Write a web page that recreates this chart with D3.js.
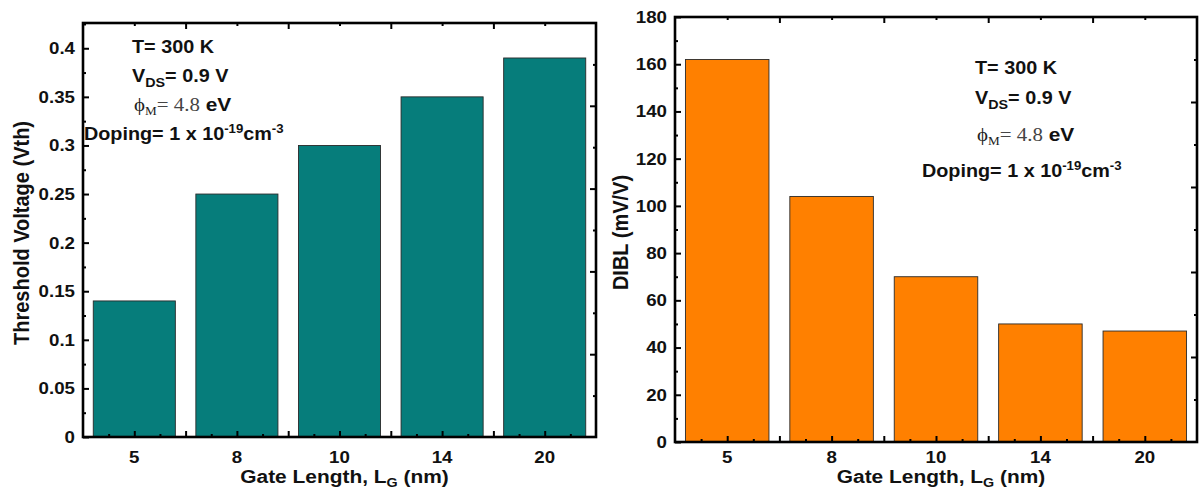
<!DOCTYPE html>
<html>
<head>
<meta charset="utf-8">
<script src="https://cdn.jsdelivr.net/npm/d3@7/dist/d3.min.js"></script>
<style>
  html, body { margin: 0; padding: 0; background: #fff; }
  svg { display: block; }
  text { font-family: Arial, "Liberation Sans", sans-serif; font-weight: bold; fill: #111; }
</style>
</head>
<body>
<svg id="chart" width="1201" height="489"></svg>
<script>
// Gate lengths (nm) shared by both panels
const gateLengths = ["5", "8", "10", "14", "20"];
// Threshold voltage (V) per gate length
const vthValues = [0.14, 0.25, 0.30, 0.35, 0.39];
// DIBL (mV/V) per gate length
const diblValues = [162, 104, 70, 50, 47];
// Y tick values and labels
const vthTicks = [0, 0.05, 0.1, 0.15, 0.2, 0.25, 0.3, 0.35, 0.4];
const vthTickLabels = ["0", "0.05", "0.1", "0.15", "0.2", "0.25", "0.3", "0.35", "0.4"];
const diblTicks = [0, 20, 40, 60, 80, 100, 120, 140, 160, 180];
const diblTickLabels = ["0", "20", "40", "60", "80", "100", "120", "140", "160", "180"];

const svg = d3.select("#chart");
const SX = 1.1;            // slight horizontal widening of the lettering
const TICK_BASE = 463;      // baseline of x tick labels
const TITLE_BASE = 483;     // baseline of x titles

function drawPanel(cfg) {
  const w = cfg.right - cfg.left, h = cfg.bottom - cfg.top;
  const g = svg.append("g").attr("transform", `translate(${cfg.left},${cfg.top})`);

  const x = d3.scaleBand().domain(gateLengths).range([0, w]).paddingInner(0.2).paddingOuter(0.1);
  const y = d3.scaleLinear().domain([0, cfg.yMax]).range([h, 0]);
  const slot = d3.scaleLinear().domain([0, gateLengths.length]).range([0, w]);
  const frac = d3.scaleLinear().domain([0, 5]).range([h, 0]);

  // bars
  g.selectAll("rect.bar").data(cfg.values).join("rect")
    .attr("class", "bar")
    .attr("x", (d, i) => x(gateLengths[i]))
    .attr("width", x.bandwidth())
    .attr("y", d => y(d))
    .attr("height", d => h - y(d))
    .attr("fill", cfg.color)
    .attr("stroke", "#2a2a2a")
    .attr("stroke-width", 0.9);

  const tickStyle = sel => {
    sel.select(".domain").remove();
    sel.selectAll("line").attr("stroke", "#000").attr("stroke-width", 2);
  };

  // left axis: major and minor ticks, inward
  g.append("g").call(d3.axisLeft(y).tickValues(cfg.minorTicks).tickSize(-3).tickFormat("")).call(tickStyle);
  const yAx = g.append("g").call(d3.axisLeft(y).tickValues(cfg.ticks).tickSize(-6).tickPadding(9)
      .tickFormat((d, i) => cfg.tickLabels[i])).call(tickStyle);
  yAx.selectAll("text").style("font-size", "17px").attr("fill", "#111")
    .attr("transform", `scale(${SX},1)`).attr("x", -8 / SX);

  // right axis: five equal divisions with halves
  const ax = g.append("g").attr("transform", `translate(${w},0)`);
  ax.call(d3.axisRight(frac).tickValues(d3.range(0.5, 5, 1)).tickSize(-3).tickFormat("")).call(tickStyle);
  ax.append("g").call(d3.axisRight(frac).tickValues(d3.range(1, 5, 1)).tickSize(-6).tickFormat("")).call(tickStyle);

  // top axis: boundaries major, centres minor
  const at = g.append("g");
  at.call(d3.axisTop(slot).tickValues(d3.range(0.5, 5, 1)).tickSize(-3).tickFormat("")).call(tickStyle);
  at.append("g").call(d3.axisTop(slot).tickValues(d3.range(1, 5, 1)).tickSize(-6).tickFormat("")).call(tickStyle);

  // bottom axis: centres and boundaries major, quarters minor
  const ab = g.append("g").attr("transform", `translate(0,${h})`);
  ab.call(d3.axisBottom(slot).tickValues(d3.range(0.25, 5, 0.5)).tickSize(-3).tickFormat("")).call(tickStyle);
  ab.append("g").call(d3.axisBottom(slot).tickValues(d3.range(0.5, 5, 0.5)).tickSize(-6).tickFormat("")).call(tickStyle);
  const lab = g.append("g").attr("transform", `translate(0,${h})`)
    .call(d3.axisBottom(x).tickSize(0).tickPadding(0));
  lab.select(".domain").remove();
  lab.selectAll("text").style("font-size", "17px").attr("fill", "#111")
    .attr("dy", 0).attr("y", TICK_BASE - cfg.bottom)
    .attr("transform", `scale(${SX},1)`)
    .attr("x", 0);

  // frame
  g.append("rect").attr("width", w).attr("height", h)
    .attr("fill", "none").attr("stroke", "#000").attr("stroke-width", 2.6);

  // x title
  const xt = svg.append("text")
    .attr("transform", `translate(${(cfg.left + cfg.right) / 2 + 5},${TITLE_BASE}) scale(${SX},1)`)
    .attr("text-anchor", "middle").style("font-size", "19px");
  xt.append("tspan").text("Gate Length, L");
  xt.append("tspan").text("G").style("font-size", "13px").attr("dy", 4);
  xt.append("tspan").text(" (nm)").attr("dy", -4);

  // y title
  svg.append("text")
    .attr("transform", `translate(${cfg.yTitleX},${(cfg.top + cfg.bottom) / 2 + 3}) scale(${SX},1) rotate(-90)`)
    .attr("text-anchor", "middle").style("font-size", "20px").text(cfg.yTitle);

  // condition notes
  const n = cfg.notes;
  svg.append("text").attr("transform", `translate(${n.x},${n.y[0]}) scale(${SX},1)`)
    .style("font-size", "18px").text("T= 300 K");

  const t2 = svg.append("text").attr("transform", `translate(${n.x},${n.y[1]}) scale(${SX},1)`).style("font-size", "18px");
  t2.append("tspan").text("V");
  t2.append("tspan").text("DS").style("font-size", "13px").attr("dy", 5);
  t2.append("tspan").text("= 0.9 V").attr("dy", -5);

  const t3 = svg.append("text").attr("transform", `translate(${n.x + 2},${n.y[2]}) scale(${SX},1)`).style("font-size", "19px");
  t3.append("tspan").text("\u03D5").style("font-family", "'Liberation Serif', 'DejaVu Serif', serif").style("font-weight", "normal").attr("fill", "#222");
  t3.append("tspan").text("M").style("font-family", "'Liberation Serif', serif").style("font-weight", "normal")
    .style("font-size", "12px").attr("fill", "#222").attr("dy", 4);
  t3.append("tspan").text("= 4.8").style("font-family", "'Liberation Serif', serif").style("font-weight", "normal")
    .attr("fill", "#444").attr("dy", -4);
  t3.append("tspan").text(" eV");

  const t4 = svg.append("text").attr("transform", `translate(${n.dx},${n.y[3]}) scale(${SX},1)`).style("font-size", "18px");
  t4.append("tspan").text("Doping= 1 x 10");
  t4.append("tspan").text("-19").style("font-size", "12px").attr("dy", -7);
  t4.append("tspan").text("cm").attr("dy", 7);
  t4.append("tspan").text("-3").style("font-size", "12px").attr("dy", -7);
}

drawPanel({
  left: 83, right: 596, top: 23, bottom: 437,
  yMax: 0.426, values: vthValues, color: "#067d7b",
  ticks: vthTicks, tickLabels: vthTickLabels,
  minorTicks: d3.range(0.025, 0.426, 0.05),
  yTitle: "Threshold Voltage (Vth)", yTitleX: 29,
  notes: { x: 132, dx: 84, y: [53, 82, 111, 140] }
});

drawPanel({
  left: 675, right: 1197, top: 17, bottom: 442,
  yMax: 180, values: diblValues, color: "#ff8000",
  ticks: diblTicks, tickLabels: diblTickLabels,
  minorTicks: d3.range(10, 180, 20),
  yTitle: "DIBL (mV/V)", yTitleX: 628,
  notes: { x: 975, dx: 922, y: [74, 104, 141, 177] }
});
</script>
</body>
</html>
